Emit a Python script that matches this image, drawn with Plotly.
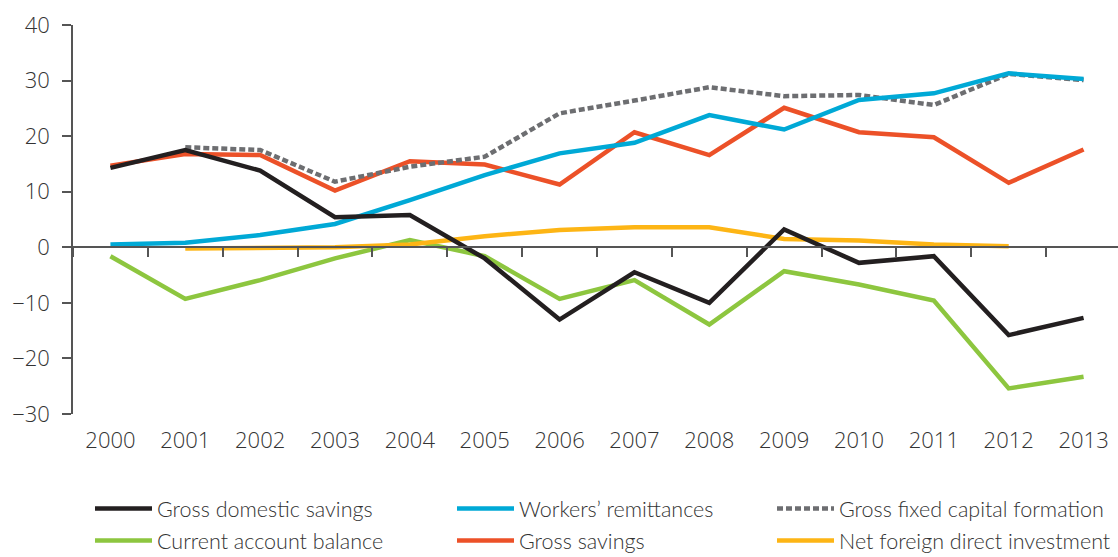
import plotly.graph_objects as go

years = [str(y) for y in range(2000, 2014)]

gross_domestic_savings = [14.3, 17.5, 13.8, 5.4, 5.8, -2.0, -13.0, -4.5, -10.0, 3.2, -2.8, -1.6, -15.8, -12.7]
workers_remittances = [0.5, 0.8, 2.2, 4.2, 8.5, 13.0, 16.9, 18.8, 23.8, 21.2, 26.5, 27.7, 31.3, 30.3]
gross_fixed_capital = [None, 18.0, 17.5, 11.8, 14.5, 16.3, 24.1, 26.4, 28.8, 27.2, 27.4, 25.6, 31.2, 30.1]
current_account = [-1.6, -9.3, -5.9, -2.0, 1.3, -1.6, -9.3, -5.9, -13.9, -4.3, -6.7, -9.6, -25.4, -23.3]
gross_savings = [14.7, 16.8, 16.6, 10.2, 15.5, 14.9, 11.3, 20.7, 16.6, 25.1, 20.7, 19.8, 11.6, 17.6]
net_fdi = [None, -0.2, 0.0, 0.0, 0.5, 2.0, 3.1, 3.6, 3.6, 1.5, 1.2, 0.5, 0.2, None]

y_ticks = [-30, -20, -10, 0, 10, 20, 30, 40]
y_ticktext = ["\u221230", "\u221220", "\u221210", "0", "10", "20", "30", "40"]

AX_FONT = dict(family="Open Sans", size=22, color="#333333", weight=300)
LEG_FONT = dict(family="Lato", size=21.5, color="#333333", weight=300)

series = [
    # name, values, color, dash, legend, rank
    ("Current account balance", current_account, "#8dc63f", "solid", "legend", 2),
    ("Gross savings", gross_savings, "#ec5128", "solid", "legend2", 2),
    ("Gross fixed capital formation", gross_fixed_capital, "#6d6e71", "6px,3px", "legend3", 1),
    ("Workers\u2019 remittances", workers_remittances, "#00a9d6", "solid", "legend2", 1),
    ("Net foreign direct investment", net_fdi, "#fdb515", "solid", "legend3", 2),
    ("Gross domestic savings", gross_domestic_savings, "#231f20", "solid", "legend", 1),
]

fig = go.Figure()
for name, vals, color, dash, leg, rank in series:
    fig.add_trace(go.Scatter(
        x=years, y=vals, name=name, mode="lines",
        line=dict(color=color, width=4.5, dash=dash),
        legend=leg, legendrank=rank, legendgroup=name, connectgaps=False,
    ))

# invisible trace carrying the zero-line axis with boundary ticks
fig.add_trace(go.Scatter(x=years, y=[None] * len(years), xaxis="x2",
                         showlegend=False, hoverinfo="skip"))

xr = [-0.5, 13.46]
W, H, L, T, B = 1118, 557, 73, 25, 143
plot_w = W - L
plot_h = H - T - B


def leg(px_x, px_y):
    return dict(
        orientation="v", x=(px_x - L) / plot_w, xanchor="left",
        y=-(px_y - (H - B)) / plot_h, yanchor="top",
        font=LEG_FONT, itemwidth=57, tracegroupgap=1,
        bgcolor="rgba(0,0,0,0)", borderwidth=0,
    )


fig.update_layout(
    width=W, height=H,
    margin=dict(l=L, r=0, t=T, b=B, autoexpand=False),
    paper_bgcolor="white", plot_bgcolor="white",
    font=AX_FONT,
    showlegend=True,
    legend=leg(90, 488),
    legend2=leg(452, 488),
    legend3=leg(772, 488),
    xaxis=dict(
        type="category", categoryarray=years, range=xr,
        showline=False, showgrid=False, zeroline=False, automargin=False,
        ticks="", ticklabelstandoff=11, tickfont=AX_FONT,
    ),
    xaxis2=dict(
        type="category", categoryarray=years, range=xr,
        overlaying="x", anchor="free", position=30 / 70, side="bottom",
        showline=True, linecolor="#555555", linewidth=1.5,
        ticks="outside", tickson="boundaries", ticklen=9, tickcolor="#555555", tickwidth=1.5,
        showticklabels=False, showgrid=False, zeroline=False, automargin=False,
    ),
    yaxis=dict(
        range=[-30, 40], tickvals=y_ticks, ticktext=y_ticktext,
        showline=True, linecolor="#555555", linewidth=1.5,
        ticks="outside", ticklen=9, tickcolor="#555555", tickwidth=1.5,
        showgrid=False, zeroline=False, automargin=False,
        ticklabelstandoff=8, tickfont=AX_FONT,
    ),
)

fig.write_html("out.html", config={"displayModeBar": False},
               post_script="document.body.style.margin='0px';")
